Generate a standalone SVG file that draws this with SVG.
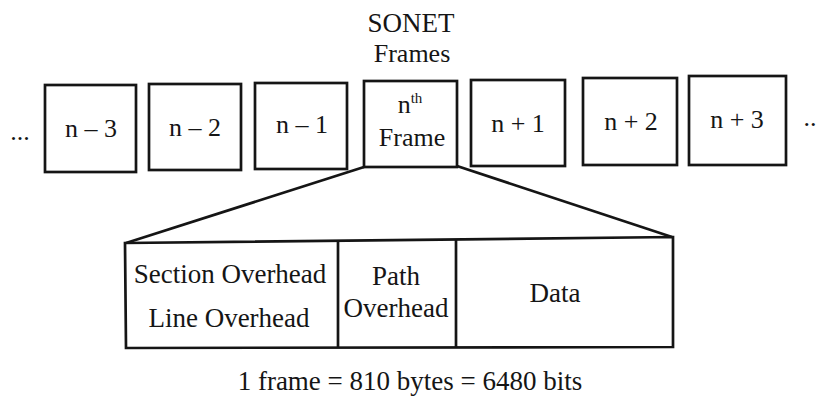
<svg xmlns="http://www.w3.org/2000/svg" width="822" height="399" viewBox="0 0 822 399">
<style>
.b{fill:#fff;stroke:#151515;stroke-width:2.7}
.t{font-family:"Liberation Serif","Times New Roman",serif;font-size:26px;fill:#151515;text-anchor:middle}
.s{font-size:27px}
.c{fill:none;stroke:#151515;stroke-width:2.7}
</style>
<rect width="822" height="399" fill="#fff"/>
<g id="title"><text class="t s" x="411" y="32">SONET</text><text class="t" x="412" y="62">Frames</text></g>
<g id="dots-left"><text class="t" x="20" y="140">...</text></g>
<g id="n-3"><rect class="b" x="45" y="85" width="91" height="87"/><text class="t" x="91" y="137">n – 3</text></g>
<g id="n-2"><rect class="b" x="149" y="84" width="92" height="86"/><text class="t" x="195" y="136">n – 2</text></g>
<g id="n-1"><rect class="b" x="255" y="83" width="92" height="86"/><text class="t" x="302" y="133">n – 1</text></g>
<g id="nth"><rect class="b" x="364" y="81" width="93" height="86"/><text class="t" x="410" y="113">n<tspan font-size="15" dy="-10">th</tspan></text><text class="t" x="412" y="146">Frame</text></g>
<g id="n+1"><rect class="b" x="471" y="80" width="94" height="86"/><text class="t" x="518" y="132">n + 1</text></g>
<g id="n+2"><rect class="b" x="583" y="78" width="94" height="87"/><text class="t" x="631" y="130">n + 2</text></g>
<g id="n+3"><rect class="b" x="689" y="76" width="97" height="89"/><text class="t" x="737" y="128">n + 3</text></g>
<g id="dots-right"><text class="t" x="810" y="126">..</text></g>
<g id="connectors">
<line class="c" x1="364" y1="167" x2="126" y2="243"/>
<line class="c" x1="457" y1="166" x2="672" y2="237"/>
</g>
<g id="frame-structure">
<polygon class="b" points="125,243 673,237 673,347 126,348"/>
<line class="c" x1="338" y1="241" x2="338" y2="348"/>
<line class="c" x1="456" y1="239" x2="456" y2="347"/>
<text class="t s" x="230" y="283">Section Overhead</text>
<text class="t s" x="229" y="327">Line Overhead</text>
<text class="t s" x="396" y="285">Path</text>
<text class="t s" x="396" y="317">Overhead</text>
<text class="t s" x="555" y="302">Data</text>
</g>
<g id="caption"><text class="t s" x="410" y="390">1 frame = 810 bytes = 6480 bits</text></g>
</svg>
